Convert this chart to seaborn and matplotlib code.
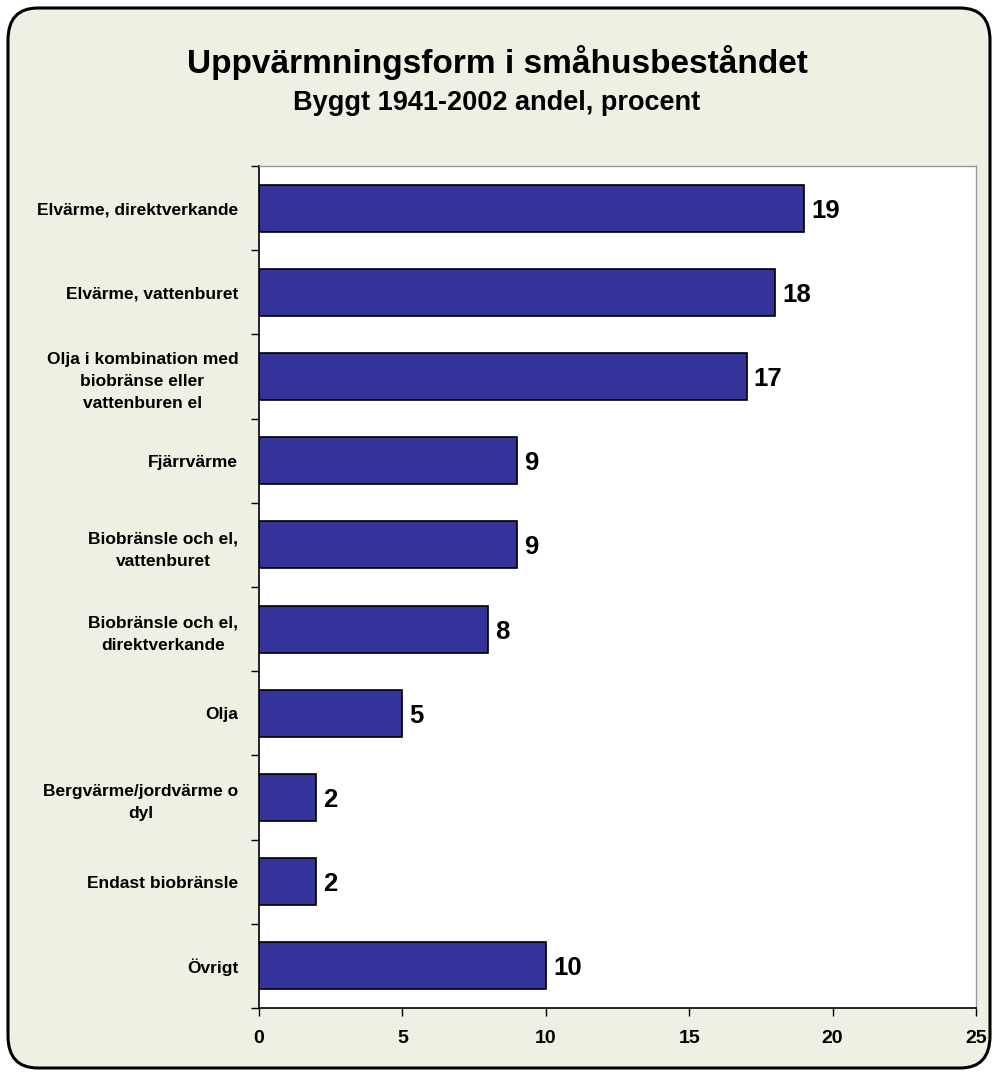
import numpy as np
import pandas as pd
import seaborn as sns
import matplotlib.pyplot as plt
from matplotlib.patches import FancyBboxPatch

categories = [
    'Elvärme, direktverkande',
    'Elvärme, vattenburet',
    'Olja i kombination med\nbiobränse eller\nvattenburen el',
    'Fjärrvärme',
    'Biobränsle och el,\nvattenburet',
    'Biobränsle och el,\ndirektverkande',
    'Olja',
    'Bergvärme/jordvärme o\ndyl',
    'Endast biobränsle',
    'Övrigt',
]
values = [19, 18, 17, 9, 9, 8, 5, 2, 2, 10]
x_ticks = [0, 5, 10, 15, 20, 25]

df = pd.DataFrame({'kategori': categories, 'andel': values})

sns.set_style('white')
plt.rcParams['font.family'] = ['Liberation Sans', 'DejaVu Sans']
plt.rcParams['text.color'] = 'black'
plt.rcParams['xtick.color'] = 'black'
plt.rcParams['ytick.color'] = 'black'

bg = '#efefe3'
fig = plt.figure(figsize=(9.96, 10.72), dpi=100)
fig.patch.set_facecolor('white')

frame = FancyBboxPatch((8 / 996, 4 / 1072), 982 / 996, 1060 / 1072,
                       boxstyle='round,pad=0,rounding_size=0.03',
                       transform=fig.transFigure, facecolor=bg,
                       edgecolor='black', linewidth=2.2, zorder=-5)
fig.patches.append(frame)

ax = fig.add_axes([259 / 996, 64 / 1072, 717 / 996, 842 / 1072])
ax.set_zorder(2)
ax.set_facecolor('white')

sns.barplot(data=df, x='andel', y='kategori', color='#333399',
            edgecolor='black', linewidth=1.2, width=0.56, saturation=1, ax=ax)

ax.set_xlim(0, 25)
ax.set_ylim(len(categories) - 0.5, -0.5)
ax.set_xticks(x_ticks)
ax.set_xticklabels([str(t) for t in x_ticks], fontsize=14, fontweight='bold')
ax.set_yticks(np.arange(len(categories)))
ax.set_yticklabels(categories, fontsize=12.5, fontweight='bold',
                   multialignment='center', linespacing=1.6)
ax.tick_params(axis='y', length=0, pad=15)
ax.set_yticks(np.arange(len(categories) + 1) - 0.5, minor=True)
ax.tick_params(axis='y', which='minor', length=6, width=1, color='black',
               direction='out', left=True)
ax.tick_params(axis='x', length=6, width=1, color='black', direction='out',
               bottom=True, pad=10)
ax.set_xlabel('')
ax.set_ylabel('')

for side in ['left', 'bottom']:
    ax.spines[side].set_color('black')
    ax.spines[side].set_linewidth(1.2)
for side in ['top', 'right']:
    ax.spines[side].set_color('#999999')
    ax.spines[side].set_linewidth(1.0)

for i, v in enumerate(values):
    ax.text(v + 0.25, i + 0.03, str(v), va='center', ha='left', fontsize=18.5,
            fontweight='bold')

fig.text(497 / 996, 1 - 62 / 1072, 'Uppvärmningsform i småhusbeståndet',
         ha='center', va='center', fontsize=24, fontweight='bold')
fig.text(497 / 996, 1 - 103 / 1072, 'Byggt 1941-2002 andel, procent',
         ha='center', va='center', fontsize=19.5, fontweight='bold')

fig.savefig('out.png', dpi=100, facecolor=fig.get_facecolor())
